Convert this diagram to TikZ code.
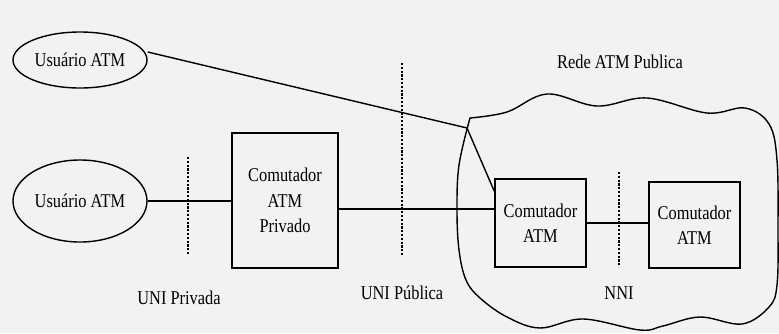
\documentclass[tikz,border=0pt]{standalone}
\usepackage{fontspec}
\usepackage{graphicx}
\setmainfont{Liberation Serif}
\usetikzlibrary{shapes.geometric}
\newcommand{\nt}[1]{\scalebox{0.84}[1]{#1}}
\begin{document}
\begin{tikzpicture}[x=1pt,y=-1pt,
  every node/.style={font=\fontsize{19.5}{25.5}\selectfont},
  wire/.style={line width=1.4pt, line join=round},
  sep/.style={line width=2.6pt, dash pattern=on 2.2pt off 1.6pt},
  user/.style={draw, line width=1.4pt, ellipse, minimum width=134pt, inner sep=0pt},
  sw/.style={draw, line width=1.4pt, rectangle, align=center, inner sep=0pt},
  lbl/.style={inner sep=0pt}]
\fill[black!5] (0,0) rectangle (779,333);
\useasboundingbox (0,0) rectangle (779,333);
% cloud
\draw[wire] plot[smooth, tension=0.6] coordinates {(470,118) (507,112) (547,94) (597,106) (647,98) (707,113) (745,108) (769,124) (777,160) (778,230) (777,285) (769,307) (742,324) (700,317) (663,326) (640,330) (583,319) (540,328) (507,317) (480,298) (466,280) (459,250) (457,210) (459,165) (470,118)} -- cycle;
\node[lbl] (rede) at (620,62) {\nt{Rede ATM Publica}};
% nodes
\node[user, minimum height=56pt] (u1) at (80,60) {\nt{Usuário ATM}};
\node[user, minimum height=82pt] (u2) at (80,201) {\nt{Usuário ATM}};
\node[sw, minimum width=106pt, minimum height=135pt] (priv) at (285,200.5) {\nt{Comutador}\\\nt{ATM}\\\nt{Privado}};
\node[sw, minimum width=91pt, minimum height=88pt] (s1) at (540.5,223) {\nt{Comutador}\\\nt{ATM}};
\node[sw, minimum width=91pt, minimum height=86pt] (s2) at (694.5,225) {\nt{Comutador}\\\nt{ATM}};
\coordinate (kink) at (467,128);
% connectors
\draw[wire] (u2.east) -- (priv.west |- u2.east);
\draw[wire] ([yshift=-8.5pt]priv.east) -- ([yshift=14pt]s1.west);
\draw[wire] (s1.east) -- (s2.west |- s1.east);
\draw[wire] ([yshift=8pt]u1.east) -- (kink) -- ([yshift=-13pt]s1.north west);
% separators
\coordinate (d1a) at (188,157); \coordinate (d1b) at (188,255);
\coordinate (d2a) at (402,63);  \coordinate (d2b) at (402,255);
\coordinate (d3a) at (619,172); \coordinate (d3b) at (619,267);
\draw[sep] (d1a) -- (d1b);
\draw[sep] (d2a) -- (d2b);
\draw[sep] (d3a) -- (d3b);
\node[lbl] (l1) at (179,298) {\nt{UNI Privada}};
\node[lbl] (l2) at (402,293) {\nt{UNI Pública}};
\node[lbl] (l3) at (619,293) {\nt{NNI}};
\end{tikzpicture}
\end{document}
